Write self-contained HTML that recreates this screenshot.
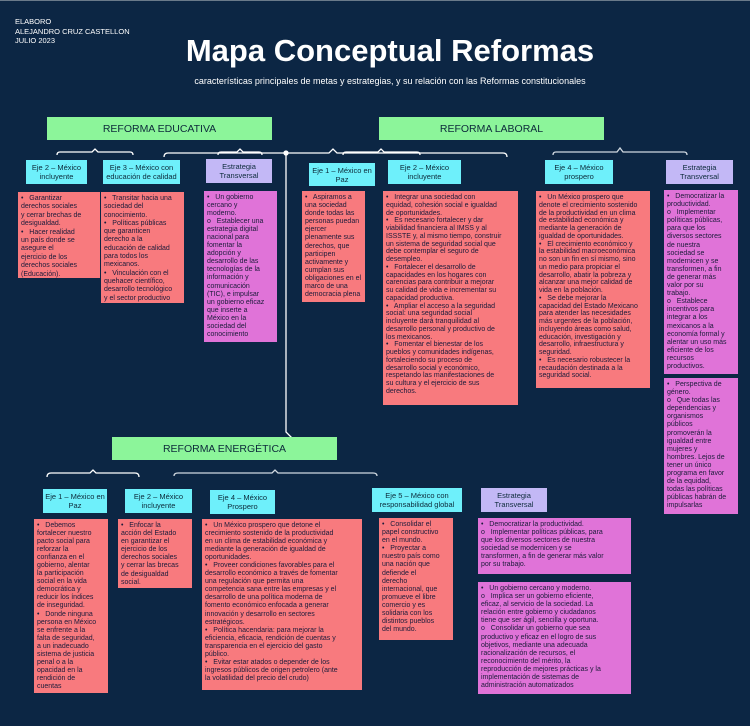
<!DOCTYPE html>
<html><head><meta charset="utf-8">
<style>
*{margin:0;padding:0;box-sizing:border-box}
body{width:750px;height:726px;background:#0c2644;position:relative;overflow:hidden;font-family:"Liberation Sans","DejaVu Sans",sans-serif}
.a{position:absolute}
.hdr{color:#fff;font-size:7.5px;line-height:9.5px;left:15px;top:17px}
.title{color:#fff;font-weight:bold;font-size:31px;left:150px;width:480px;text-align:center;top:33px;letter-spacing:0px}
.sub{color:#fff;font-size:9px;left:150px;width:480px;text-align:center;top:76px}
.ref{background:#8cf59a;color:#0c2a3a;font-size:10.5px;text-align:center;display:flex;align-items:center;justify-content:center}
.eje{background:#6ef0fb;color:#0c2a3a;font-size:7.5px;line-height:9px;text-align:center;display:flex;align-items:center;justify-content:center}
.est{background:#c3b8f6;color:#0c2a3a;font-size:7.5px;line-height:9px;text-align:center;display:flex;align-items:center;justify-content:center}
.p{background:#f87a7e;color:#1b1b3a;font-size:7px;padding:3px 3px;white-space:nowrap;overflow:hidden}
.m{background:#e073d8;color:#1b1b3a;font-size:7px;padding:3px 3px;white-space:nowrap;overflow:hidden}
</style></head><body>
<div class="a" style="left:0;top:0;width:750px;height:1px;background:#6a7a8a"></div>
<div class="a hdr">ELABORO<br>ALEJANDRO CRUZ CASTELLON<br>JULIO 2023</div>
<div class="a title">Mapa Conceptual Reformas</div>
<div class="a sub">características principales de metas y estrategias, y su relación con las Reformas constitucionales</div>

<svg class="a" style="left:0;top:0" width="750" height="726" fill="none" stroke="#fff" stroke-width="1.3">
<path d="M164,157 Q164,153 168,153 L329,153 L333,149 L337,153 L503,153 Q507,153 507,157"/>
<circle cx="286" cy="153" r="2" fill="#fff"/>
<path d="M286,153 L286,432 L292,438"/>
<path d="M57,155 Q57,152 60,152 L92,152 L95,149 L98,152 L130,152 Q133,152 133,155"/>
<path d="M218,155 Q218,152 221,152 L237,152 L240,149 L243,152 L259,152 Q262,152 262,155"/>
<path d="M343,155 Q343,152 346,152 L378,152 L381,149 L384,152 L417,152 Q420,152 420,155"/>
<path d="M553,155 Q553,152 556,152 L617,152 L620,148 L623,152 L684,152 Q687,152 687,155" stroke="#d0d8e0"/>
<path d="M47,477 Q47,473 51,473 L90,473 L93,470 L96,473 L135,473 Q139,473 139,477"/>
<path d="M174,476 Q174,473 178,473 L272,473 L275,470 L278,473 L373,473 Q377,473 377,476" stroke="#d0d8e0"/>
</svg>

<div class="a ref" style="left:47px;top:117px;width:225px;height:23px">REFORMA EDUCATIVA</div>
<div class="a ref" style="left:379px;top:117px;width:225px;height:23px">REFORMA LABORAL</div>
<div class="a ref" style="left:112px;top:437px;width:225px;height:23px">REFORMA ENERGÉTICA</div>

<div class="a eje" style="left:26px;top:160px;width:61px;height:24px">Eje 2 – México<br>incluyente</div>
<div class="a eje" style="left:103px;top:160px;width:77px;height:24px">Eje 3 – México con<br>educación de calidad</div>
<div class="a est" style="left:206px;top:159px;width:66px;height:24px">Estrategia<br>Transversal</div>
<div class="a eje" style="left:309px;top:163px;width:66px;height:23px">Eje 1 – México en<br>Paz</div>
<div class="a eje" style="left:388px;top:160px;width:73px;height:24px">Eje 2 – México<br>incluyente</div>
<div class="a eje" style="left:545px;top:160px;width:68px;height:24px">Eje 4 – México<br>prospero</div>
<div class="a est" style="left:666px;top:160px;width:67px;height:24px">Estrategia<br>Transversal</div>

<div class="a p" style="left:18px;top:192px;width:82px;height:86px;line-height:8.4px">•&nbsp;&nbsp; Garantizar<br>derechos sociales<br>y cerrar brechas de<br>desigualdad.<br>•&nbsp;&nbsp; Hacer realidad<br>un país donde se<br>asegure el<br>ejercicio de los<br>derechos sociales<br>(Educación).</div>
<div class="a p" style="left:101px;top:192px;width:83px;height:111px;line-height:8.3px">•&nbsp;&nbsp; Transitar hacia una<br>sociedad del<br>conocimiento.<br>•&nbsp;&nbsp; Políticas públicas<br>que garanticen<br>derecho a la<br>educación de calidad<br>para todos los<br>mexicanos.<br>•&nbsp;&nbsp; Vinculación con el<br>quehacer científico,<br>desarrollo tecnológico<br>y el sector productivo</div>
<div class="a m" style="left:204px;top:191px;width:73px;height:151px;line-height:8.05px">•&nbsp;&nbsp; Un gobierno<br>cercano y<br>moderno.<br>o&nbsp;&nbsp; Establecer una<br>estrategia digital<br>nacional para<br>fomentar la<br>adopción y<br>desarrollo de las<br>tecnologías de la<br>información y<br>comunicación<br>(TIC), e impulsar<br>un gobierno eficaz<br>que inserte a<br>México en la<br>sociedad del<br>conocimiento</div>
<div class="a p" style="left:302px;top:191px;width:63px;height:111px;line-height:8.1px">•&nbsp;&nbsp; Aspiramos a<br>una sociedad<br>donde todas las<br>personas puedan<br>ejercer<br>plenamente sus<br>derechos, que<br>participen<br>activamente y<br>cumplan sus<br>obligaciones en el<br>marco de una<br>democracia plena</div>
<div class="a p" style="left:383px;top:191px;width:135px;height:214px;line-height:7.75px">•&nbsp;&nbsp; Integrar una sociedad con<br>equidad, cohesión social e igualdad<br>de oportunidades.<br>•&nbsp;&nbsp; Es necesario fortalecer y dar<br>viabilidad financiera al IMSS y al<br>ISSSTE y, al mismo tiempo, construir<br>un sistema de seguridad social que<br>debe contemplar el seguro de<br>desempleo.<br>•&nbsp;&nbsp; Fortalecer el desarrollo de<br>capacidades en los hogares con<br>carencias para contribuir a mejorar<br>su calidad de vida e incrementar su<br>capacidad productiva.<br>•&nbsp;&nbsp; Ampliar el acceso a la seguridad<br>social: una seguridad social<br>incluyente dará tranquilidad al<br>desarrollo personal y productivo de<br>los mexicanos.<br>•&nbsp;&nbsp; Fomentar el bienestar de los<br>pueblos y comunidades indígenas,<br>fortaleciendo su proceso de<br>desarrollo social y económico,<br>respetando las manifestaciones de<br>su cultura y el ejercicio de sus<br>derechos.</div>
<div class="a p" style="left:536px;top:191px;width:114px;height:197px;line-height:7.75px">•&nbsp;&nbsp; Un México prospero que<br>denote el crecimiento sostenido<br>de la productividad en un clima<br>de estabilidad económica y<br>mediante la generación de<br>igualdad de oportunidades.<br>•&nbsp;&nbsp; El crecimiento económico y<br>la estabilidad macroeconómica<br>no son un fin en sí mismo, sino<br>un medio para propiciar el<br>desarrollo, abatir la pobreza y<br>alcanzar una mejor calidad de<br>vida en la población.<br>•&nbsp;&nbsp; Se debe mejorar la<br>capacidad del Estado Mexicano<br>para atender las necesidades<br>más urgentes de la población,<br>incluyendo áreas como salud,<br>educación, investigación y<br>desarrollo, infraestructura y<br>seguridad.<br>•&nbsp;&nbsp; Es necesario robustecer la<br>recaudación destinada a la<br>seguridad social.</div>
<div class="a m" style="left:664px;top:190px;width:74px;height:184px;line-height:8.1px">•&nbsp;&nbsp; Democratizar la<br>productividad.<br>o&nbsp;&nbsp; Implementar<br>políticas públicas,<br>para que los<br>diversos sectores<br>de nuestra<br>sociedad se<br>modernicen y se<br>transformen, a fin<br>de generar más<br>valor por su<br>trabajo.<br>o&nbsp;&nbsp; Establece<br>incentivos para<br>integrar a los<br>mexicanos a la<br>economía formal y<br>alentar un uso más<br>eficiente de los<br>recursos<br>productivos.</div>
<div class="a m" style="left:664px;top:378px;width:74px;height:136px;line-height:8.1px">•&nbsp;&nbsp; Perspectiva de<br>género.<br>o&nbsp;&nbsp; Que todas las<br>dependencias y<br>organismos<br>públicos<br>promoverán la<br>igualdad entre<br>mujeres y<br>hombres. Lejos de<br>tener un único<br>programa en favor<br>de la equidad,<br>todas las políticas<br>públicas habrán de<br>impulsarlas</div>

<div class="a eje" style="left:43px;top:489px;width:64px;height:24px">Eje 1 – México en<br>Paz</div>
<div class="a eje" style="left:125px;top:489px;width:67px;height:24px">Eje 2 – México<br>incluyente</div>
<div class="a eje" style="left:210px;top:490px;width:65px;height:24px">Eje 4 – México<br>Prospero</div>
<div class="a eje" style="left:372px;top:488px;width:90px;height:24px">Eje 5 – México con<br>responsabilidad global</div>
<div class="a est" style="left:481px;top:488px;width:66px;height:24px">Estrategia<br>Transversal</div>

<div class="a p" style="left:34px;top:519px;width:74px;height:174px;line-height:8.05px">•&nbsp;&nbsp; Debemos<br>fortalecer nuestro<br>pacto social para<br>reforzar la<br>confianza en el<br>gobierno, alentar<br>la participación<br>social en la vida<br>democrática y<br>reducir los índices<br>de inseguridad.<br>•&nbsp;&nbsp; Donde ninguna<br>persona en México<br>se enfrente a la<br>falta de seguridad,<br>a un inadecuado<br>sistema de justicia<br>penal o a la<br>opacidad en la<br>rendición de<br>cuentas</div>
<div class="a p" style="left:118px;top:519px;width:74px;height:69px;line-height:8.1px">•&nbsp;&nbsp; Enfocar la<br>acción del Estado<br>en garantizar el<br>ejercicio de los<br>derechos sociales<br>y cerrar las brecas<br>de desigualdad<br>social.</div>
<div class="a p" style="left:202px;top:519px;width:160px;height:171px;line-height:8.05px">•&nbsp;&nbsp; Un México prospero que detone el<br>crecimiento sostenido de la productividad<br>en un clima de estabilidad económica y<br>mediante la generación de igualdad de<br>oportunidades.<br>•&nbsp;&nbsp; Proveer condiciones favorables para el<br>desarrollo económico a través de fomentar<br>una regulación que permita una<br>competencia sana entre las empresas y el<br>desarrollo de una política moderna de<br>fomento económico enfocada a generar<br>innovación y desarrollo en sectores<br>estratégicos.<br>•&nbsp;&nbsp; Política hacendaria: para mejorar la<br>eficiencia, eficacia, rendición de cuentas y<br>transparencia en el ejercicio del gasto<br>público.<br>•&nbsp;&nbsp; Evitar estar atados o depender de los<br>ingresos públicos de origen petrolero (ante<br>la volatilidad del precio del crudo)</div>
<div class="a p" style="left:379px;top:518px;width:74px;height:122px;line-height:8.1px">•&nbsp;&nbsp; Consolidar el<br>papel constructivo<br>en el mundo.<br>•&nbsp;&nbsp; Proyectar a<br>nuestro país como<br>una nación que<br>defiende el<br>derecho<br>internacional, que<br>promueve el libre<br>comercio y es<br>solidaria con los<br>distintos pueblos<br>del mundo.</div>
<div class="a m" style="left:478px;top:518px;width:153px;height:56px;line-height:8.1px">•&nbsp;&nbsp; Democratizar la productividad.<br>o&nbsp;&nbsp; Implementar políticas públicas, para<br>que los diversos sectores de nuestra<br>sociedad se modernicen y se<br>transformen, a fin de generar más valor<br>por su trabajo.</div>
<div class="a m" style="left:478px;top:582px;width:153px;height:112px;line-height:8.1px">•&nbsp;&nbsp; Un gobierno cercano y moderno.<br>o&nbsp;&nbsp; Implica ser un gobierno eficiente,<br>eficaz, al servicio de la sociedad. La<br>relación entre gobierno y ciudadanos<br>tiene que ser ágil, sencilla y oportuna.<br>o&nbsp;&nbsp; Consolidar un gobierno que sea<br>productivo y eficaz en el logro de sus<br>objetivos, mediante una adecuada<br>racionalización de recursos, el<br>reconocimiento del mérito, la<br>reproducción de mejores prácticas y la<br>implementación de sistemas de<br>administración automatizados</div>
</body></html>
